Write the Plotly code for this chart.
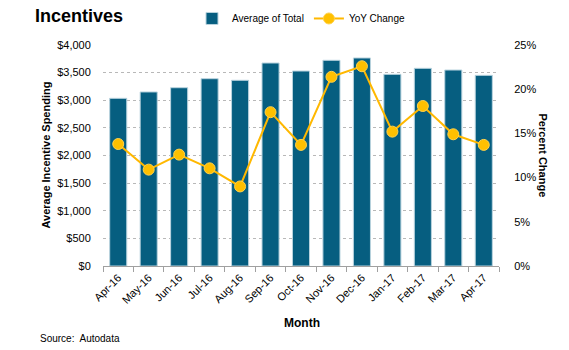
import plotly.graph_objects as go

months = ["Apr-16", "May-16", "Jun-16", "Jul-16", "Aug-16", "Sep-16", "Oct-16",
          "Nov-16", "Dec-16", "Jan-17", "Feb-17", "Mar-17", "Apr-17"]
avg_total = [3035, 3150, 3227, 3390, 3361, 3674, 3529, 3723, 3765, 3469, 3578, 3547, 3451]
yoy_change = [13.8, 10.9, 12.6, 11.05, 9.0, 17.4, 13.7, 21.4, 22.6, 15.2, 18.1, 14.9, 13.7]

FONT = "Liberation Sans"
L, R, T, B = 103, 70, 45, 84
PW, PH = 569 - L - R, 350 - T - B

fig = go.Figure()
fig.add_trace(go.Bar(
    x=months, y=avg_total, name="Average of Total",
    marker=dict(color="#065E80", line=dict(color="#B9D3DE", width=1)),
    width=0.56, yaxis="y",
))
fig.add_trace(go.Scatter(
    x=months, y=[v / 100 for v in yoy_change], name="YoY Change",
    mode="lines+markers",
    line=dict(color="#FFB800", width=2),
    marker=dict(color="#FFC000", size=11, line=dict(color="#FFD24D", width=1)),
    yaxis="y2",
))

fig.update_layout(
    width=569, height=350,
    margin=dict(l=L, r=R, t=T, b=B, autoexpand=False),
    plot_bgcolor="white", paper_bgcolor="white",
    font=dict(family=FONT, size=11, color="#000000"),
    showlegend=True,
    legend=dict(orientation="h", x=0.5, xanchor="center", y=1.12, yanchor="middle",
                font=dict(size=10), bgcolor="rgba(0,0,0,0)"),
    xaxis=dict(
        type="category", tickangle=-45, tickson="boundaries",
        ticks="outside", ticklen=5, tickcolor="#A0A0A0",
        showline=True, linecolor="#A0A0A0", linewidth=1,
        showgrid=False, tickfont=dict(size=11), automargin=False,
        range=[-0.5, len(months) - 0.5],
    ),
    yaxis=dict(
        range=[0, 4000], dtick=500, tickprefix="$", tickformat=",",
        showgrid=True, gridcolor="#B8B8B8", griddash="dot", gridwidth=1,
        zeroline=False, showline=False,
        ticks="outside", ticklen=9, tickcolor="rgba(0,0,0,0)",
        tickfont=dict(size=11), automargin=False,
    ),
    yaxis2=dict(
        range=[0, 0.25], dtick=0.05, tickformat=".0%", overlaying="y", side="right",
        showgrid=False, zeroline=False, showline=False,
        ticks="outside", ticklen=12, tickcolor="rgba(0,0,0,0)",
        tickfont=dict(size=11), automargin=False,
    ),
    title=dict(text="<b>Incentives</b>", x=35 / 569, xref="container", xanchor="left",
               y=1 - 16 / 350, yanchor="middle", font=dict(size=18, family=FONT)),
    annotations=[
        dict(text="Source:  Autodata", xref="paper", yref="paper",
             x=(38 - L) / PW, y=-(338 - (T + PH)) / PH, xanchor="left", yanchor="middle",
             showarrow=False, font=dict(size=10)),
        dict(text="<b>Month</b>", xref="paper", yref="paper",
             x=(302 - L) / PW, y=-(323 - (T + PH)) / PH, xanchor="center", yanchor="middle",
             showarrow=False, font=dict(size=12)),
        dict(text="<b>Average Incentive Spending</b>", xref="paper", yref="paper",
             x=(45 - L) / PW, y=0.5, xanchor="center", yanchor="middle", textangle=-90,
             showarrow=False, font=dict(size=11)),
        dict(text="<b>Percent Change</b>", xref="paper", yref="paper",
             x=(543 - L) / PW, y=0.5, xanchor="center", yanchor="middle", textangle=90,
             showarrow=False, font=dict(size=11)),
    ],
)

fig.write_html("out.html")
